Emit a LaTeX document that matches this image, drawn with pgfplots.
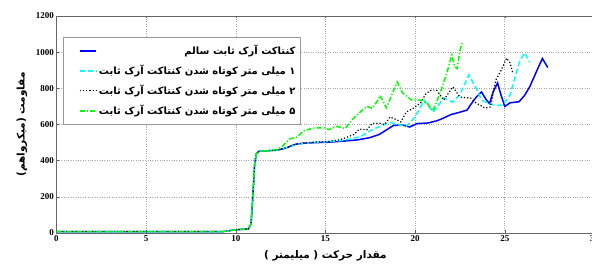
\documentclass[border=0pt]{standalone}
\usepackage{fontspec}
\usepackage{pgfplots}
\pgfplotsset{compat=1.18}
\setmainfont{Liberation Serif}
\newfontfamily\fa[Script=Arabic]{DejaVu Sans}
\TeXXeTstate=1
\definecolor{myblue}{RGB}{0,0,255}
\definecolor{mycyan}{RGB}{0,255,255}
\definecolor{mygreen}{RGB}{0,255,0}
\begin{document}
\begin{tikzpicture}
\begin{axis}[
  scale only axis,
  width=537.9pt, height=217pt,
  xmin=0, xmax=30, ymin=0, ymax=1200,
  xtick={0,5,...,30}, ytick={0,200,...,1200},
  /pgf/number format/assume math mode=true,
  /pgf/number format/1000 sep={},
  tick label style={font=\bfseries\fontsize{9}{9}\selectfont, text=black},
  xticklabel style={yshift=1pt},
  yticklabel style={xshift=1pt},
  axis line style={draw=gray!80!black, line width=0.6pt},
  tick style={draw=gray!70!black, line width=0.5pt},
  major tick length=2.5pt,
  grid=major,
  major grid style={dotted, draw=gray!70, line width=0.6pt},
  xlabel={\fa\bfseries\fontsize{10.5}{11}\selectfont\beginR مقدار حرکت ( میلیمتر )\endR},
  ylabel={\fa\bfseries\fontsize{10.5}{11}\selectfont\beginR مقاومت (میکرواهم)\endR},
  xlabel style={yshift=-2pt},
  ylabel style={yshift=2pt},
  legend style={at={(0.012,0.903)}, anchor=north west, draw=gray!80, fill=white,
    font=\fa\bfseries\fontsize{10}{10}\selectfont, row sep=5pt, inner xsep=3pt, inner ysep=6pt},
  legend cell align=right,
  legend image code/.code={\path (-0.45cm,0cm); \draw[mark repeat=2,mark phase=2] plot coordinates {(0cm,0cm) (0.3cm,0cm) (0.58cm,0cm)};},
]
\addplot[myblue, line width=1.5pt] coordinates {
(0,8) (9.3,8) (9.8,15) (10.3,20) (10.7,22) (10.85,50) (10.95,200) (11.05,380) (11.15,440) (11.3,452) (11.8,455) (12.3,458)
(12.8,470) (13.3,490) (13.8,497) (14.5,500) (15.2,502) (16,508) (16.8,515) (17.5,528) (18,545) (18.4,570) (18.8,595) (19.3,597) (19.7,586) (20.1,605) (20.7,608) (21.2,620) (21.6,636) (22.0,655) (22.5,668) (22.9,680) (23.1,710) (23.4,750) (23.7,780) (23.95,740) (24.15,715) (24.35,780) (24.6,830) (24.8,760) (25.0,700) (25.3,720) (25.8,726) (26.1,760) (26.4,810) (26.8,900) (27.1,965) (27.4,915)
};
\addlegendentry{\beginR کنتاکت آرک ثابت سالم\endR}
\addplot[mycyan, line width=1.5pt, dash pattern=on 5pt off 3pt] coordinates {
(0,8) (9.3,8) (9.8,15) (10.3,20) (10.7,22) (10.85,50) (10.95,200) (11.05,380) (11.15,440) (11.3,452) (11.8,455) (12.3,458)
(12.8,470) (13.3,488) (13.8,497) (14.5,502) (15.2,505) (16.0,512) (16.6,525) (17.0,535) (17.3,555) (17.7,575) (18.0,588) (18.6,612) (19.0,600) (19.5,590) (20.0,640) (20.5,735) (21.0,668) (21.6,746) (22.1,724) (22.5,765) (23.0,874) (23.4,802) (23.7,735) (24.2,712) (24.6,706) (24.9,708) (25.3,765) (25.8,940) (26.1,996) (26.4,945)
};
\addlegendentry{\beginR ۱ میلی متر کوتاه شدن کنتاکت آرک ثابت\endR}
\addplot[black, line width=1.2pt, dotted] coordinates {
(0,8) (9.3,8) (9.8,15) (10.3,20) (10.7,22) (10.85,50) (10.95,200) (11.05,380) (11.15,440) (11.3,452) (11.8,455) (12.3,458)
(12.8,470) (13.3,490) (14.0,500) (14.5,503) (15.2,507) (15.8,515) (16.2,530) (16.6,545) (16.9,575) (17.3,570) (17.6,605) (18.0,608) (18.3,600) (18.6,641) (19.0,625) (19.2,614) (19.5,668) (19.9,690) (20.3,719) (20.6,770) (20.9,790) (21.2,790) (21.6,735) (22.1,808) (22.5,752) (23.1,746) (23.4,719) (23.9,691) (24.2,697) (24.5,846) (24.8,900) (25.1,967) (25.3,940) (25.45,884)
};
\addlegendentry{\beginR ۲ میلی متر کوتاه شدن کنتاکت آرک ثابت\endR}
\addplot[mygreen, line width=1.5pt, dash pattern=on 5pt off 2pt on 1.2pt off 2pt] coordinates {
(0,8) (9.3,8) (9.8,15) (10.3,20) (10.7,22) (10.85,50) (10.95,200) (11.05,380) (11.15,440) (11.3,452) (11.8,455) (12.3,462)
(12.6,480) (13.0,520) (13.4,530) (13.8,565) (14.3,580) (14.9,582) (15.2,572) (15.6,590) (16.1,578) (16.5,628) (16.9,665) (17.3,700) (17.6,690) (17.9,730) (18.05,760) (18.4,692) (19.0,835) (19.3,775) (19.8,735) (20.3,735) (20.7,715) (21.0,675) (21.4,775) (21.8,895) (22.05,985) (22.2,918) (22.35,910) (22.5,1010) (22.65,1060)
};
\addlegendentry{\beginR ۵ میلی متر کوتاه شدن کنتاکت آرک ثابت\endR}
\end{axis}
\pgfresetboundingbox
\path[use as bounding box] ([shift={(-56.5pt,-31pt)}]current axis.south west) rectangle ++(592pt,264pt);
\end{tikzpicture}
\end{document}
